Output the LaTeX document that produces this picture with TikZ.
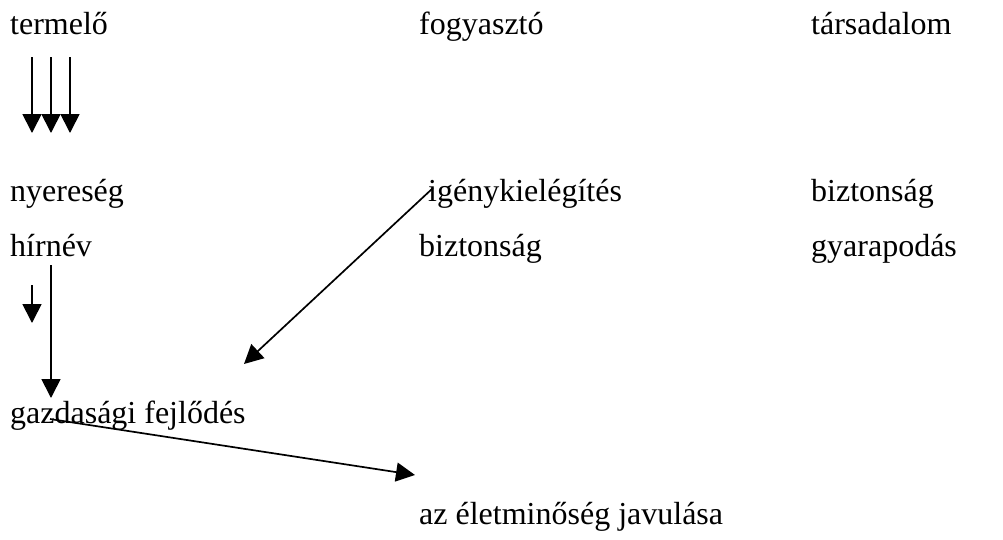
\documentclass[tikz,border=0pt]{standalone}
\usepackage{fontspec}
\setmainfont{Liberation Serif}
\usetikzlibrary{arrows.meta}
\begin{document}
\begin{tikzpicture}[x=1pt,y=-1pt,
  lbl/.style={anchor=base west,inner sep=0pt,font=\fontsize{32}{38}\selectfont},
  arr/.style={line width=1.7pt,-{Triangle[width=19pt,length=19pt]}}]
\useasboundingbox[fill=white] (0,0) rectangle (1003,539);
\node[lbl] (termelo) at (10,34) {termelő};
\node[lbl] (fogyaszto) at (419,34) {fogyasztó};
\node[lbl] (tarsadalom) at (811,34) {társadalom};
\node[lbl] (nyereseg) at (10,201) {nyereség};
\node[lbl] (igeny) at (428,201) {igénykielégítés};
\node[lbl] (bizt1) at (811,201) {biztonság};
\node[lbl] (hirnev) at (10,256) {hírnév};
\node[lbl] (bizt2) at (419,256) {biztonság};
\node[lbl] (gyarap) at (811,256) {gyarapodás};
\node[lbl] (gazd) at (10,423) {gazdasági fejlődés};
\node[lbl] (elet) at (419,524) {az életminőség javulása};
\coordinate (a1s) at (32,57); \coordinate (a1e) at (32,133);
\coordinate (a2s) at (51,57); \coordinate (a2e) at (51,133);
\coordinate (a3s) at (70,57); \coordinate (a3e) at (70,133);
\draw[arr] (a1s) -- (a1e);
\draw[arr] (a2s) -- (a2e);
\draw[arr] (a3s) -- (a3e);
\coordinate (b1s) at (32,285); \coordinate (b1e) at (32,323);
\draw[arr] (b1s) -- (b1e);
\coordinate (b2s) at (51,265); \coordinate (b2e) at (51,398);
\draw[arr] (b2s) -- (b2e);
\coordinate (cs) at (433,188); \coordinate (ce) at (244,364);
\draw[arr] (cs) -- (ce);
\coordinate (ds) at (50,419); \coordinate (de) at (415,475);
\draw[arr] (ds) -- (de);
\end{tikzpicture}
\end{document}
